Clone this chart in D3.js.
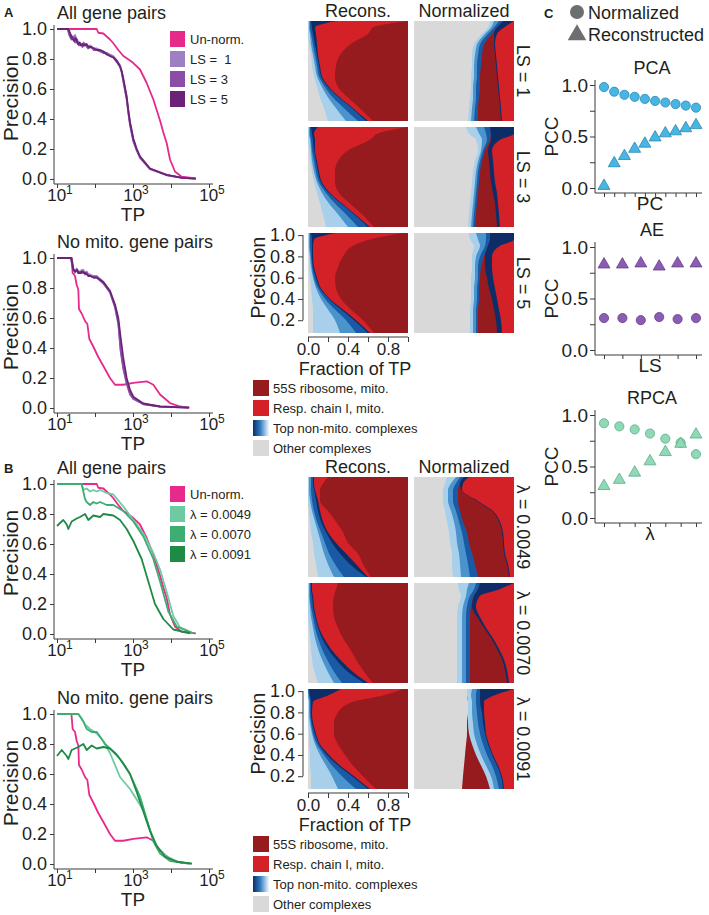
<!DOCTYPE html>
<html lang="en">
<head>
    <meta charset="UTF-8">
    <title>Precision of gene pairs after normalization</title>
    <script src="https://d3js.org/d3.v7.min.js"></script>
    <style>
        body { margin: 0; background: #fff; }
        svg text { fill: #231f20; }
    </style>
</head>
<body>
<div id="figure"></div>
<script>
    // ---------- line charts: [TP, precision] ----------
    const unNormAll = [[10,1],[111,1],[122,0.975],[166,0.97],[203,0.95],[248,0.93],[304,0.905],[411,0.86],[557,0.82],[834,0.79],[1020,0.773],[1530,0.73],[2290,0.64],[3430,0.53],[5140,0.39],[6290,0.31],[7690,0.24],[9420,0.13],[12700,0.05],[19100,0.015],[45000,0.004]];
    const unNormNoMito = [[10,1],[24,1],[25.8,0.9],[29.8,0.88],[33,0.82],[36.4,0.79],[37.9,0.66],[44.6,0.63],[54.6,0.58],[62.9,0.56],[71,0.46],[90,0.41],[122,0.34],[166,0.28],[248,0.2],[336,0.155],[557,0.155],[1020,0.167],[2290,0.178],[3430,0.155],[5140,0.09],[9420,0.033],[17300,0.01],[30000,0.003]];

    const ls1All = [[10,1],[20,1],[22,0.97],[25,0.95],[27,0.93],[30,0.96],[33,0.92],[37,0.9],[40,0.91],[45,0.89],[50,0.91],[55,0.9],[62,0.88],[75,0.89],[90,0.87],[111,0.87],[136,0.86],[166,0.85],[203,0.84],[248,0.83],[304,0.82],[372,0.79],[455,0.76],[503,0.72],[557,0.66],[616,0.6],[681,0.55],[753,0.45],[834,0.37],[1020,0.26],[1250,0.2],[1530,0.15],[2800,0.07],[7690,0.027],[20000,0.008],[45000,0.003]];
    const ls3All = [[10,1],[19,1],[21,0.96],[24,0.93],[27,0.95],[30,0.91],[34,0.93],[38,0.89],[42,0.9],[47,0.88],[52,0.9],[58,0.89],[66,0.87],[78,0.88],[92,0.86],[111,0.86],[136,0.85],[166,0.84],[203,0.84],[248,0.82],[304,0.81],[372,0.78],[455,0.75],[503,0.71],[557,0.65],[616,0.59],[681,0.53],[753,0.44],[834,0.36],[1020,0.25],[1250,0.19],[1530,0.14],[2800,0.065],[7690,0.025],[20000,0.008],[45000,0.003]];
    const ls5All = [[10,1],[20,1],[23,0.96],[25,0.94],[28,0.92],[31,0.94],[35,0.9],[39,0.91],[43,0.89],[48,0.9],[53,0.89],[60,0.9],[68,0.88],[80,0.88],[95,0.87],[111,0.86],[136,0.86],[166,0.85],[203,0.83],[248,0.82],[304,0.81],[372,0.79],[455,0.75],[503,0.72],[557,0.67],[616,0.61],[681,0.55],[753,0.46],[834,0.38],[1020,0.27],[1250,0.2],[1530,0.15],[2800,0.07],[7690,0.027],[20000,0.008],[45000,0.003]];

    const ls1NoMito = [[10,1],[24.3,1],[26.9,0.93],[29.8,0.9],[33,0.93],[36.4,0.91],[40.3,0.9],[44.6,0.92],[49.3,0.92],[54.6,0.9],[60.4,0.91],[66.8,0.89],[73.9,0.89],[90.4,0.88],[111,0.88],[166,0.84],[248,0.78],[336,0.68],[411,0.57],[473,0.39],[557,0.27],[681,0.18],[834,0.1],[1020,0.067],[1870,0.027],[5140,0.01],[30000,0.003]];
    const ls3NoMito = [[10,1],[23,1],[26,0.94],[29,0.91],[32,0.92],[36,0.9],[40,0.91],[45,0.9],[50,0.91],[55,0.89],[61,0.9],[67,0.88],[75,0.88],[90,0.87],[111,0.87],[166,0.83],[248,0.77],[336,0.67],[411,0.56],[473,0.38],[557,0.26],[681,0.16],[834,0.09],[1020,0.06],[1870,0.025],[5140,0.009],[30000,0.003]];
    const ls5NoMito = [[10,1],[24,1],[27,0.92],[30,0.91],[34,0.92],[37,0.9],[41,0.9],[46,0.91],[51,0.9],[56,0.9],[62,0.89],[68,0.88],[76,0.88],[92,0.87],[111,0.87],[166,0.84],[248,0.78],[336,0.69],[411,0.6],[473,0.47],[557,0.33],[681,0.2],[834,0.12],[1020,0.075],[1870,0.03],[5140,0.01],[30000,0.003]];

    const lam49All = [[10,1],[44.6,1],[49.3,0.96],[60.4,0.97],[73.9,0.95],[90.4,0.96],[111,0.95],[136,0.96],[203,0.94],[304,0.93],[557,0.85],[1020,0.76],[1870,0.67],[3430,0.54],[5140,0.43],[7690,0.28],[11500,0.12],[17300,0.044],[38700,0.005]];
    const lam70All = [[10,1],[44.6,1],[54.6,0.9],[60.4,0.88],[73.9,0.86],[90.4,0.88],[111,0.87],[136,0.88],[203,0.86],[304,0.86],[557,0.82],[1020,0.75],[1870,0.65],[3430,0.5],[5140,0.35],[8510,0.15],[14100,0.05],[38700,0.005]];
    const lam91All = [[10,0.72],[12,0.74],[14.7,0.76],[18,0.73],[19.9,0.7],[24.3,0.75],[33,0.77],[40.3,0.78],[54.6,0.8],[66.8,0.76],[90.4,0.79],[136,0.78],[166,0.8],[304,0.79],[455,0.76],[681,0.7],[1020,0.62],[1690,0.5],[2530,0.35],[3790,0.2],[6290,0.1],[11500,0.03],[31600,0.005]];

    const lam49NoMito = [[10,1],[36.4,1],[44.6,0.97],[54.6,0.93],[73.9,0.9],[111,0.87],[166,0.82],[248,0.74],[455,0.58],[834,0.5],[1250,0.43],[1870,0.36],[2800,0.23],[4200,0.12],[7690,0.05],[17300,0.01],[35000,0.003]];
    const lam70NoMito = [[10,1],[36.4,1],[49.3,0.95],[60.4,0.9],[81.7,0.88],[111,0.88],[136,0.85],[183,0.8],[248,0.77],[455,0.7],[834,0.6],[1530,0.45],[2290,0.3],[3430,0.15],[5140,0.07],[9420,0.02],[35000,0.003]];
    const lam91NoMito = [[10,0.72],[13.3,0.76],[18,0.72],[19.9,0.7],[24.3,0.76],[36.4,0.78],[49.3,0.8],[60.4,0.76],[81.7,0.79],[111,0.77],[166,0.78],[248,0.77],[372,0.73],[557,0.67],[834,0.6],[1250,0.48],[1870,0.35],[2800,0.22],[4200,0.12],[6960,0.05],[14100,0.015],[35000,0.003]];

    const precTicks = [0, 0.2, 0.4, 0.6, 0.8, 1.0];
    const tpTickExps = [1, 2, 3, 4, 5];
    const lsLabels = ["Un-norm.", "LS =  1", "LS = 3", "LS = 5"];
    const lambdaLabels = ["Un-norm.", "\u03bb = 0.0049", "\u03bb = 0.0070", "\u03bb = 0.0091"];

    // ---------- stacked fraction panels ----------
    // precision levels (rows); each row = cumulative right edges of the first 6 layers
    const precLevels = [1.02, 0.96, 0.9, 0.8, 0.7, 0.6, 0.5, 0.4, 0.3, 0.2, 0.08];
    const reconsOrder = ["other", "light", "mid", "dark", "navy", "resp", "ribo"];
    const normOrder = ["other", "light", "mid", "dark", "ribo", "navy", "resp"];
    const normOrderL91 = ["other", "ribo", "light", "mid", "dark", "navy", "resp"];

    const reconsLS1 = [
        [0.00, 0.01, 0.02, 0.03, 0.28, 1.00], [0.00, 0.01, 0.02, 0.04, 0.07, 0.65],
        [0.00, 0.02, 0.03, 0.05, 0.08, 0.60], [0.01, 0.03, 0.05, 0.07, 0.09, 0.42],
        [0.03, 0.05, 0.07, 0.09, 0.10, 0.32], [0.04, 0.07, 0.09, 0.11, 0.12, 0.28],
        [0.06, 0.09, 0.11, 0.13, 0.14, 0.27], [0.09, 0.14, 0.17, 0.20, 0.21, 0.30],
        [0.12, 0.20, 0.25, 0.31, 0.32, 0.40], [0.16, 0.28, 0.36, 0.44, 0.45, 0.52],
        [0.20, 0.38, 0.50, 0.58, 0.60, 0.65]];
    const reconsLS3 = [
        [0.00, 0.01, 0.02, 0.03, 0.10, 1.00], [0.00, 0.01, 0.02, 0.04, 0.06, 0.70],
        [0.00, 0.02, 0.03, 0.05, 0.07, 0.62], [0.01, 0.03, 0.04, 0.06, 0.07, 0.40],
        [0.02, 0.04, 0.06, 0.08, 0.09, 0.30], [0.04, 0.06, 0.08, 0.10, 0.11, 0.27],
        [0.06, 0.09, 0.11, 0.13, 0.14, 0.27], [0.09, 0.14, 0.18, 0.21, 0.22, 0.31],
        [0.12, 0.21, 0.27, 0.33, 0.34, 0.42], [0.15, 0.30, 0.38, 0.46, 0.47, 0.54],
        [0.18, 0.40, 0.50, 0.60, 0.62, 0.66]];
    const reconsLS5 = [
        [0.00, 0.01, 0.02, 0.03, 0.28, 0.95], [0.00, 0.01, 0.02, 0.04, 0.06, 0.62],
        [0.00, 0.01, 0.02, 0.04, 0.05, 0.45], [0.01, 0.02, 0.03, 0.04, 0.05, 0.35],
        [0.01, 0.03, 0.04, 0.05, 0.06, 0.30], [0.02, 0.05, 0.06, 0.08, 0.09, 0.27],
        [0.03, 0.08, 0.10, 0.12, 0.13, 0.28], [0.04, 0.13, 0.17, 0.21, 0.22, 0.33],
        [0.05, 0.20, 0.27, 0.33, 0.35, 0.43], [0.05, 0.27, 0.38, 0.46, 0.48, 0.55],
        [0.05, 0.32, 0.48, 0.60, 0.62, 0.66]];
    const normLS1 = [
        [0.76, 0.80, 0.85, 0.90, 0.90, 1.00], [0.74, 0.77, 0.80, 0.83, 0.83, 0.90],
        [0.68, 0.71, 0.74, 0.78, 0.80, 0.83], [0.60, 0.63, 0.66, 0.70, 0.80, 0.81],
        [0.58, 0.61, 0.64, 0.68, 0.81, 0.82], [0.58, 0.60, 0.63, 0.67, 0.82, 0.83],
        [0.57, 0.60, 0.63, 0.66, 0.83, 0.84], [0.57, 0.59, 0.62, 0.66, 0.84, 0.85],
        [0.56, 0.59, 0.62, 0.65, 0.85, 0.86], [0.55, 0.58, 0.61, 0.64, 0.86, 0.87],
        [0.54, 0.57, 0.60, 0.64, 0.87, 0.88]];
    const normLS3 = [
        [0.52, 0.62, 0.70, 0.76, 0.76, 1.00], [0.55, 0.65, 0.72, 0.77, 0.77, 1.00],
        [0.62, 0.68, 0.73, 0.76, 0.77, 0.86], [0.64, 0.67, 0.69, 0.71, 0.74, 0.78],
        [0.61, 0.64, 0.66, 0.68, 0.75, 0.79], [0.59, 0.62, 0.64, 0.66, 0.76, 0.80],
        [0.58, 0.61, 0.63, 0.65, 0.77, 0.81], [0.57, 0.60, 0.62, 0.64, 0.79, 0.83],
        [0.56, 0.59, 0.61, 0.63, 0.81, 0.84], [0.55, 0.58, 0.60, 0.62, 0.82, 0.85],
        [0.54, 0.57, 0.59, 0.61, 0.83, 0.86]];
    const normLS5 = [
        [0.55, 0.62, 0.72, 0.76, 0.76, 1.00], [0.56, 0.64, 0.72, 0.76, 0.76, 1.00],
        [0.60, 0.66, 0.71, 0.74, 0.74, 0.86], [0.58, 0.62, 0.66, 0.70, 0.71, 0.78],
        [0.58, 0.61, 0.64, 0.67, 0.71, 0.78], [0.57, 0.61, 0.64, 0.66, 0.73, 0.79],
        [0.57, 0.60, 0.63, 0.65, 0.75, 0.81], [0.57, 0.60, 0.63, 0.65, 0.78, 0.83],
        [0.56, 0.59, 0.62, 0.64, 0.80, 0.85], [0.56, 0.59, 0.62, 0.64, 0.82, 0.87],
        [0.56, 0.59, 0.62, 0.64, 0.83, 0.88]];

    const reconsL49 = [
        [0.00, 0.01, 0.03, 0.05, 0.06, 0.20], [0.00, 0.01, 0.03, 0.05, 0.06, 0.15],
        [0.00, 0.01, 0.03, 0.06, 0.07, 0.12], [0.00, 0.02, 0.04, 0.08, 0.10, 0.12],
        [0.01, 0.04, 0.06, 0.10, 0.12, 0.20], [0.02, 0.07, 0.09, 0.13, 0.15, 0.28],
        [0.03, 0.10, 0.13, 0.18, 0.20, 0.35], [0.05, 0.13, 0.17, 0.24, 0.28, 0.40],
        [0.06, 0.16, 0.21, 0.32, 0.38, 0.50], [0.08, 0.20, 0.27, 0.42, 0.48, 0.55],
        [0.10, 0.26, 0.36, 0.58, 0.60, 0.63]];
    const reconsL70 = [
        [0.00, 0.01, 0.02, 0.03, 0.04, 0.30], [0.00, 0.01, 0.02, 0.03, 0.04, 0.28],
        [0.00, 0.01, 0.02, 0.04, 0.05, 0.26], [0.00, 0.02, 0.03, 0.05, 0.06, 0.25],
        [0.00, 0.03, 0.05, 0.07, 0.08, 0.26], [0.01, 0.05, 0.07, 0.10, 0.11, 0.30],
        [0.02, 0.07, 0.10, 0.14, 0.16, 0.35], [0.03, 0.10, 0.14, 0.20, 0.23, 0.42],
        [0.04, 0.14, 0.19, 0.28, 0.32, 0.48], [0.06, 0.19, 0.25, 0.38, 0.43, 0.55],
        [0.10, 0.26, 0.34, 0.56, 0.60, 0.65]];
    const reconsL91 = [
        [0.00, 0.00, 0.00, 0.01, 0.33, 0.95], [0.00, 0.00, 0.01, 0.02, 0.20, 0.75],
        [0.00, 0.01, 0.02, 0.03, 0.05, 0.45], [0.00, 0.01, 0.02, 0.03, 0.04, 0.30],
        [0.00, 0.02, 0.03, 0.04, 0.05, 0.26], [0.01, 0.04, 0.05, 0.07, 0.08, 0.26],
        [0.01, 0.07, 0.09, 0.11, 0.12, 0.30], [0.02, 0.12, 0.16, 0.19, 0.21, 0.37],
        [0.02, 0.18, 0.24, 0.30, 0.32, 0.45], [0.03, 0.24, 0.34, 0.44, 0.46, 0.55],
        [0.03, 0.30, 0.48, 0.60, 0.62, 0.68]];
    const normL49 = [
        [0.33, 0.42, 0.46, 0.50, 0.50, 0.55], [0.31, 0.37, 0.42, 0.46, 0.46, 0.49],
        [0.29, 0.34, 0.39, 0.44, 0.47, 0.48], [0.29, 0.34, 0.39, 0.44, 0.62, 0.63],
        [0.31, 0.37, 0.42, 0.46, 0.78, 0.79], [0.33, 0.40, 0.45, 0.49, 0.85, 0.86],
        [0.35, 0.42, 0.48, 0.53, 0.88, 0.89], [0.36, 0.43, 0.50, 0.55, 0.89, 0.90],
        [0.38, 0.45, 0.52, 0.58, 0.90, 0.91], [0.38, 0.46, 0.54, 0.61, 0.93, 0.94],
        [0.39, 0.47, 0.56, 0.64, 0.95, 0.96]];
    const normL70 = [
        [0.44, 0.55, 0.62, 0.66, 0.66, 1.00], [0.45, 0.53, 0.60, 0.64, 0.64, 0.85],
        [0.47, 0.52, 0.56, 0.60, 0.60, 0.66], [0.44, 0.49, 0.53, 0.57, 0.58, 0.62],
        [0.43, 0.48, 0.52, 0.56, 0.63, 0.66], [0.43, 0.48, 0.52, 0.56, 0.70, 0.72],
        [0.43, 0.48, 0.52, 0.56, 0.77, 0.79], [0.43, 0.48, 0.52, 0.56, 0.83, 0.85],
        [0.43, 0.48, 0.52, 0.56, 0.88, 0.90], [0.43, 0.48, 0.52, 0.56, 0.91, 0.93],
        [0.43, 0.48, 0.52, 0.56, 0.93, 0.95]];
    const normL91 = [
        [0.53, 0.53, 0.58, 0.63, 0.66, 1.00], [0.53, 0.53, 0.57, 0.62, 0.66, 0.80],
        [0.54, 0.54, 0.58, 0.62, 0.66, 0.70], [0.54, 0.54, 0.58, 0.63, 0.68, 0.70],
        [0.53, 0.54, 0.59, 0.64, 0.69, 0.71], [0.53, 0.55, 0.60, 0.66, 0.71, 0.72],
        [0.52, 0.58, 0.63, 0.69, 0.74, 0.75], [0.51, 0.62, 0.67, 0.73, 0.78, 0.79],
        [0.50, 0.67, 0.72, 0.78, 0.83, 0.84], [0.49, 0.72, 0.77, 0.82, 0.87, 0.88],
        [0.48, 0.76, 0.80, 0.85, 0.89, 0.90]];

    const complexLegend = ["55S ribosome, mito.", "Resp. chain I, mito.", "Top non-mito. complexes", "Other complexes"];
    const lsRowLabels = ["LS = 1", "LS = 3", "LS = 5"];
    const lambdaRowLabels = ["\u03bb = 0.0049", "\u03bb = 0.0070", "\u03bb = 0.0091"];

    // ---------- panel C ----------
    const pcaNormalized = [0.98, 0.935, 0.905, 0.885, 0.865, 0.845, 0.83, 0.815, 0.80, 0.78];
    const pcaReconstructed = [0.02, 0.24, 0.31, 0.38, 0.43, 0.49, 0.53, 0.55, 0.58, 0.61];
    const aeNormalized = [0.31, 0.31, 0.29, 0.32, 0.30, 0.31];
    const aeReconstructed = [0.83, 0.83, 0.84, 0.81, 0.84, 0.84];
    const rpcaNormalized = [0.92, 0.89, 0.86, 0.82, 0.77, 0.73, 0.62];
    const rpcaReconstructed = [0.31, 0.37, 0.44, 0.55, 0.64, 0.72, 0.81];
    const pccTicks = [0, 0.25, 0.5, 0.75, 1];

    // colours
    const pink = "#e7298a";
    const lsColors = ["#9c80c1", "#8a4ea8", "#6c2377"];
    const lambdaColors = ["#6fcaa4", "#3dae72", "#1e8a45"];
    const layerColors = {
        other: "#d9d9d9", light: "#a9d0ea", mid: "#4a93cd", dark: "#1a5aa5",
        navy: "#0c2d68", resp: "#d42027", ribo: "#961b1f"
    };
    const axisColor = "#3a3a3a";
    const font = "'Liberation Sans', Arial, Helvetica, sans-serif";

    const svg = d3.select("#figure").append("svg")
        .attr("width", 709).attr("height", 915)
        .attr("font-family", font);

    const defs = svg.append("defs");
    const grad = defs.append("linearGradient").attr("id", "topGrad");
    grad.append("stop").attr("offset", "0%").attr("stop-color", "#08306b");
    grad.append("stop").attr("offset", "45%").attr("stop-color", "#2f7cc0");
    grad.append("stop").attr("offset", "100%").attr("stop-color", "#f4f8fd");

    function styleAxis(g, size) {
        g.select(".domain").remove();
        g.selectAll("line").attr("stroke", axisColor);
        g.selectAll("text").attr("font-size", size).attr("font-family", font).attr("fill", "#231f20");
    }

    function panelLetter(ch, x, y) {
        svg.append("text").attr("x", x).attr("y", y).attr("font-size", 13)
            .attr("font-weight", "bold").text(ch);
    }

    // ---------- precision vs TP ----------
    function precisionChart(top, title, series, colors, legendLabels) {
        const g = svg.append("g");
        const y0 = top + 150;
        const axisY = y0 + 5;
        const x = d3.scaleLog().domain([10, 1e5]).range([57, 209]);
        const y = d3.scaleLinear().domain([0, 1]).range([y0, top]);

        g.append("text").attr("x", 57).attr("y", top - 10).attr("font-size", 18).text(title);

        const ya = g.append("g").attr("transform", "translate(54,0)")
            .call(d3.axisLeft(y).tickValues(precTicks).tickFormat(d3.format(".1f"))
                .tickSize(4).tickPadding(3));
        styleAxis(ya, 18);

        const xa = g.append("g").attr("transform", `translate(0,${axisY})`)
            .call(d3.axisBottom(x).tickValues(tpTickExps.map(e => 10 ** e)).tickFormat("").tickSize(4));
        styleAxis(xa, 18);

        g.append("line").attr("x1", 54).attr("x2", 54).attr("y1", top - 4).attr("y2", axisY)
            .attr("stroke", axisColor);
        g.append("line").attr("x1", 54).attr("x2", 213).attr("y1", axisY).attr("y2", axisY)
            .attr("stroke", axisColor);

        tpTickExps.filter(e => e % 2 === 1).forEach(e => {
            const t = g.append("text").attr("x", x(10 ** e) + 3).attr("y", y0 + 22)
                .attr("text-anchor", "middle").attr("font-size", 17).text("10");
            t.append("tspan").attr("dy", -7).attr("font-size", 12).text(e);
        });

        g.append("text").attr("x", 133).attr("y", y0 + 42).attr("text-anchor", "middle")
            .attr("font-size", 19).text("TP");
        g.append("text").attr("transform", `translate(18,${(top + y0) / 2 - 6}) rotate(-90)`)
            .attr("text-anchor", "middle").attr("font-size", 21).text("Precision");

        const line = d3.line().x(d => x(d[0])).y(d => y(d[1]));
        series.forEach((s, i) => {
            g.append("path").datum(s).attr("d", line).attr("fill", "none")
                .attr("stroke", colors[i]).attr("stroke-width", 1.8)
                .attr("stroke-linejoin", "round");
        });

        if (legendLabels) {
            const lg = g.append("g").attr("transform", `translate(170,${top + 2})`);
            legendLabels.forEach((lab, i) => {
                lg.append("rect").attr("x", 0).attr("y", i * 20).attr("width", 15).attr("height", 16)
                    .attr("fill", colors[i]);
                lg.append("text").attr("x", 20).attr("y", i * 20 + 13).attr("font-size", 13)
                    .style("white-space", "pre").text(lab);
            });
        }
    }

    precisionChart(29, "All gene pairs", [unNormAll, ls1All, ls3All, ls5All], [pink].concat(lsColors), lsLabels);
    precisionChart(258, "No mito. gene pairs", [unNormNoMito, ls1NoMito, ls3NoMito, ls5NoMito], [pink].concat(lsColors), null);
    precisionChart(484, "All gene pairs", [unNormAll, lam49All, lam70All, lam91All], [pink].concat(lambdaColors), lambdaLabels);
    precisionChart(714, "No mito. gene pairs", [unNormNoMito, lam49NoMito, lam70NoMito, lam91NoMito], [pink].concat(lambdaColors), null);

    panelLetter("A", 4, 17);
    panelLetter("B", 4, 473);

    // ---------- stacked panels ----------
    let clipId = 0;
    function stackPanel(rows, order, x0, top) {
        const x = d3.scaleLinear().domain([0, 1]).range([x0, x0 + 100]);
        const y = d3.scaleLinear().domain([0.08, 1.02]).range([top + 100, top]);
        const id = "clip" + (clipId++);
        defs.append("clipPath").attr("id", id).append("rect")
            .attr("x", x0).attr("y", top).attr("width", 100).attr("height", 100);
        const g = svg.append("g").attr("clip-path", `url(#${id})`);
        order.forEach((key, i) => {
            const area = d3.area().curve(d3.curveMonotoneY)
                .y((d, j) => y(precLevels[j]))
                .x0(d => x(i === 0 ? 0 : d[i - 1]))
                .x1(x(1));
            g.append("path").datum(rows).attr("d", area).attr("fill", layerColors[key]);
        });
    }

    function stackBlock(top, recons, norms, rowLabels) {
        const rowTops = [top, top + 106, top + 212];
        svg.append("text").attr("x", 358).attr("y", top - 4).attr("text-anchor", "middle")
            .attr("font-size", 18).text("Recons.");
        svg.append("text").attr("x", 464).attr("y", top - 4).attr("text-anchor", "middle")
            .attr("font-size", 18).text("Normalized");
        rowTops.forEach((rt, i) => {
            stackPanel(recons[i], reconsOrder, 308, rt);
            stackPanel(norms[i].rows, norms[i].order, 414, rt);
            svg.append("text").attr("transform", `translate(517,${rt + 50}) rotate(90)`)
                .attr("text-anchor", "middle").attr("font-size", 18).text(rowLabels[i]);
        });

        const bt = rowTops[2];
        const y = d3.scaleLinear().domain([0.08, 1.02]).range([bt + 100, bt]);
        const x = d3.scaleLinear().domain([0, 1]).range([308, 408]);
        const ya = svg.append("g").attr("transform", "translate(303,0)")
            .call(d3.axisLeft(y).tickValues([0.2, 0.4, 0.6, 0.8, 1.0]).tickFormat(d3.format(".1f"))
                .tickSize(5).tickPadding(3));
        styleAxis(ya, 18);
        svg.append("line").attr("x1", 303).attr("x2", 303).attr("y1", y(1)).attr("y2", y(0.2))
            .attr("stroke", axisColor);
        svg.append("text").attr("transform", `translate(265,${(y(1) + y(0.2)) / 2}) rotate(-90)`)
            .attr("text-anchor", "middle").attr("font-size", 20).text("Precision");

        const axY = bt + 104;
        const xa = svg.append("g").attr("transform", `translate(0,${axY})`)
            .call(d3.axisBottom(x).tickValues([0, 0.2, 0.4, 0.6, 0.8, 1.0])
                .tickFormat(d => [0, 0.4, 0.8].includes(d) ? d3.format(".1f")(d) : "")
                .tickSize(5).tickPadding(1));
        styleAxis(xa, 17);
        svg.append("line").attr("x1", 308).attr("x2", 408).attr("y1", axY).attr("y2", axY)
            .attr("stroke", axisColor);
        svg.append("text").attr("x", 355).attr("y", bt + 142).attr("text-anchor", "middle")
            .attr("font-size", 18).text("Fraction of TP");

        const fills = [layerColors.ribo, layerColors.resp, "url(#topGrad)", layerColors.other];
        complexLegend.forEach((lab, i) => {
            const ly = bt + 147 + i * 20;
            svg.append("rect").attr("x", 253).attr("y", ly).attr("width", 16).attr("height", 16)
                .attr("fill", fills[i]);
            svg.append("text").attr("x", 273).attr("y", ly + 13).attr("font-size", 13).text(lab);
        });
    }

    stackBlock(21, [reconsLS1, reconsLS3, reconsLS5],
        [{ rows: normLS1, order: normOrder }, { rows: normLS3, order: normOrder }, { rows: normLS5, order: normOrder }],
        lsRowLabels);
    stackBlock(477, [reconsL49, reconsL70, reconsL91],
        [{ rows: normL49, order: normOrder }, { rows: normL70, order: normOrder }, { rows: normL91, order: normOrderL91 }],
        lambdaRowLabels);

    // ---------- panel C ----------
    panelLetter("C", 544, 18);
    svg.append("circle").attr("cx", 577).attr("cy", 12).attr("r", 7).attr("fill", "#6d6e71");
    svg.append("text").attr("x", 588).attr("y", 19).attr("font-size", 18).text("Normalized");
    svg.append("path").attr("d", d3.symbol(d3.symbolTriangle).size(150)())
        .attr("transform", "translate(577,35)").attr("fill", "#6d6e71");
    svg.append("text").attr("x", 588).attr("y", 41).attr("font-size", 18).text("Reconstructed");

    function pccPanel(top, title, xLabel, circles, triangles, fill, stroke) {
        const y0 = top + 103;
        const axY = y0 + 5;
        const y = d3.scaleLinear().domain([0, 1]).range([y0, top]);
        const x = d3.scalePoint().domain(d3.range(circles.length)).range([604, 696]);

        svg.append("text").attr("x", 652).attr("y", top - 11).attr("text-anchor", "middle")
            .attr("font-size", 18).text(title);
        const ya = svg.append("g").attr("transform", "translate(595,0)")
            .call(d3.axisLeft(y).tickValues(pccTicks)
                .tickFormat(d => d === 0.25 || d === 0.75 ? "" : d3.format(".1f")(d))
                .tickSize(5).tickPadding(2));
        styleAxis(ya, 19);
        const xa = svg.append("g").attr("transform", `translate(0,${axY})`)
            .call(d3.axisBottom(x).tickFormat("").tickSize(4));
        styleAxis(xa, 19);
        svg.append("line").attr("x1", 595).attr("x2", 595).attr("y1", top - 5).attr("y2", axY)
            .attr("stroke", axisColor);
        svg.append("line").attr("x1", 595).attr("x2", 702).attr("y1", axY).attr("y2", axY)
            .attr("stroke", axisColor);
        svg.append("text").attr("x", 650).attr("y", axY + 17).attr("text-anchor", "middle")
            .attr("font-size", 19).text(xLabel);
        svg.append("text").attr("transform", `translate(558,${(top + y0) / 2}) rotate(-90)`)
            .attr("text-anchor", "middle").attr("font-size", 19).text("PCC");

        svg.append("g").selectAll("circle").data(circles).join("circle")
            .attr("cx", (d, i) => x(i)).attr("cy", d => y(d)).attr("r", 4.6)
            .attr("fill", fill).attr("stroke", stroke).attr("stroke-width", 0.8);
        svg.append("g").selectAll("path").data(triangles).join("path")
            .attr("d", d3.symbol(d3.symbolTriangle).size(62)())
            .attr("transform", (d, i) => `translate(${x(i)},${y(d)})`)
            .attr("fill", fill).attr("stroke", stroke).attr("stroke-width", 0.8);
    }

    pccPanel(85, "PCA", "PC", pcaNormalized, pcaReconstructed, "#47b6e2", "#2a86b6");
    pccPanel(247, "AE", "LS", aeNormalized, aeReconstructed, "#8b5db0", "#6a3d8e");
    pccPanel(415, "RPCA", "\u03bb", rpcaNormalized, rpcaReconstructed, "#90d8b6", "#5aae88");
</script>
</body>
</html>
